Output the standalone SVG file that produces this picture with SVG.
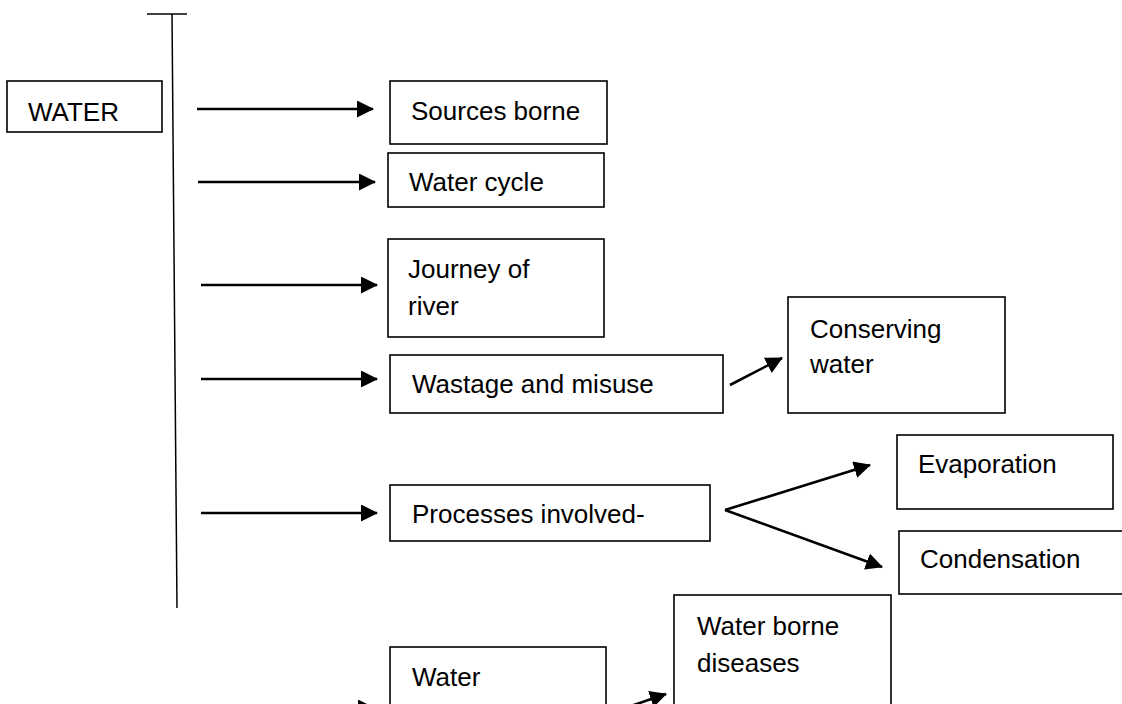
<svg xmlns="http://www.w3.org/2000/svg" width="1122" height="704" viewBox="0 0 1122 704">
<defs>
<style>
.box{fill:#fff;stroke:#000;stroke-width:1.6}
.t{font-family:"Liberation Sans",Arial,sans-serif;font-size:26px;fill:#000}
.c{stroke:#000;stroke-width:2.6;fill:none;marker-end:url(#ah)}
.ln{stroke:#000;stroke-width:1.5;fill:none}
</style>
<marker id="ah" markerUnits="userSpaceOnUse" viewBox="0 0 17 17" markerWidth="17" markerHeight="17" refX="16" refY="8.5" orient="auto">
<path d="M0,0 L17,8.5 L0,17 z" fill="#000"/>
</marker>
</defs>
<rect width="1122" height="704" fill="#fff"/>
<g id="spine">
<line class="ln" x1="147" y1="14" x2="187" y2="14"/>
<line class="ln" x1="172" y1="14" x2="177" y2="608"/>
</g>
<g id="connectors">
<line class="c" x1="197" y1="109" x2="373" y2="109"/>
<line class="c" x1="198" y1="182" x2="375" y2="182"/>
<line class="c" x1="201" y1="285" x2="377" y2="285"/>
<line class="c" x1="201" y1="379" x2="377" y2="379"/>
<line class="c" x1="201" y1="513" x2="377" y2="513"/>
<line class="c" x1="201" y1="708" x2="374" y2="708"/>
<line class="c" x1="730" y1="385" x2="782" y2="358"/>
<line class="c" x1="725" y1="510" x2="870" y2="465"/>
<line class="c" x1="725" y1="510" x2="882" y2="567"/>
<line class="c" x1="622" y1="709" x2="666" y2="694"/>
</g>
<g id="water"><rect class="box" x="7" y="81" width="155" height="51"/><text class="t" x="28" y="121">WATER</text></g>
<g id="sources"><rect class="box" x="390" y="81" width="217" height="63"/><text class="t" x="411" y="120">Sources borne</text></g>
<g id="cycle"><rect class="box" x="388" y="153" width="216" height="54"/><text class="t" x="409" y="191">Water cycle</text></g>
<g id="journey"><rect class="box" x="388" y="239" width="216" height="98"/><text class="t" x="408" y="278">Journey of</text><text class="t" x="408" y="315">river</text></g>
<g id="wastage"><rect class="box" x="390" y="355" width="333" height="58"/><text class="t" x="412" y="393">Wastage and misuse</text></g>
<g id="conserving"><rect class="box" x="788" y="297" width="217" height="116"/><text class="t" x="810" y="338">Conserving</text><text class="t" x="810" y="373">water</text></g>
<g id="processes"><rect class="box" x="390" y="485" width="320" height="56"/><text class="t" x="412" y="523">Processes involved-</text></g>
<g id="evaporation"><rect class="box" x="897" y="435" width="216" height="74"/><text class="t" x="918" y="473">Evaporation</text></g>
<g id="condensation"><rect class="box" x="899" y="531" width="240" height="63"/><text class="t" x="920" y="568">Condensation</text></g>
<g id="waterborne"><rect class="box" x="674" y="595" width="217" height="130"/><text class="t" x="697" y="635">Water borne</text><text class="t" x="697" y="672">diseases</text></g>
<g id="waterbottom"><rect class="box" x="390" y="647" width="216" height="80"/><text class="t" x="412" y="686">Water</text></g>
</svg>
